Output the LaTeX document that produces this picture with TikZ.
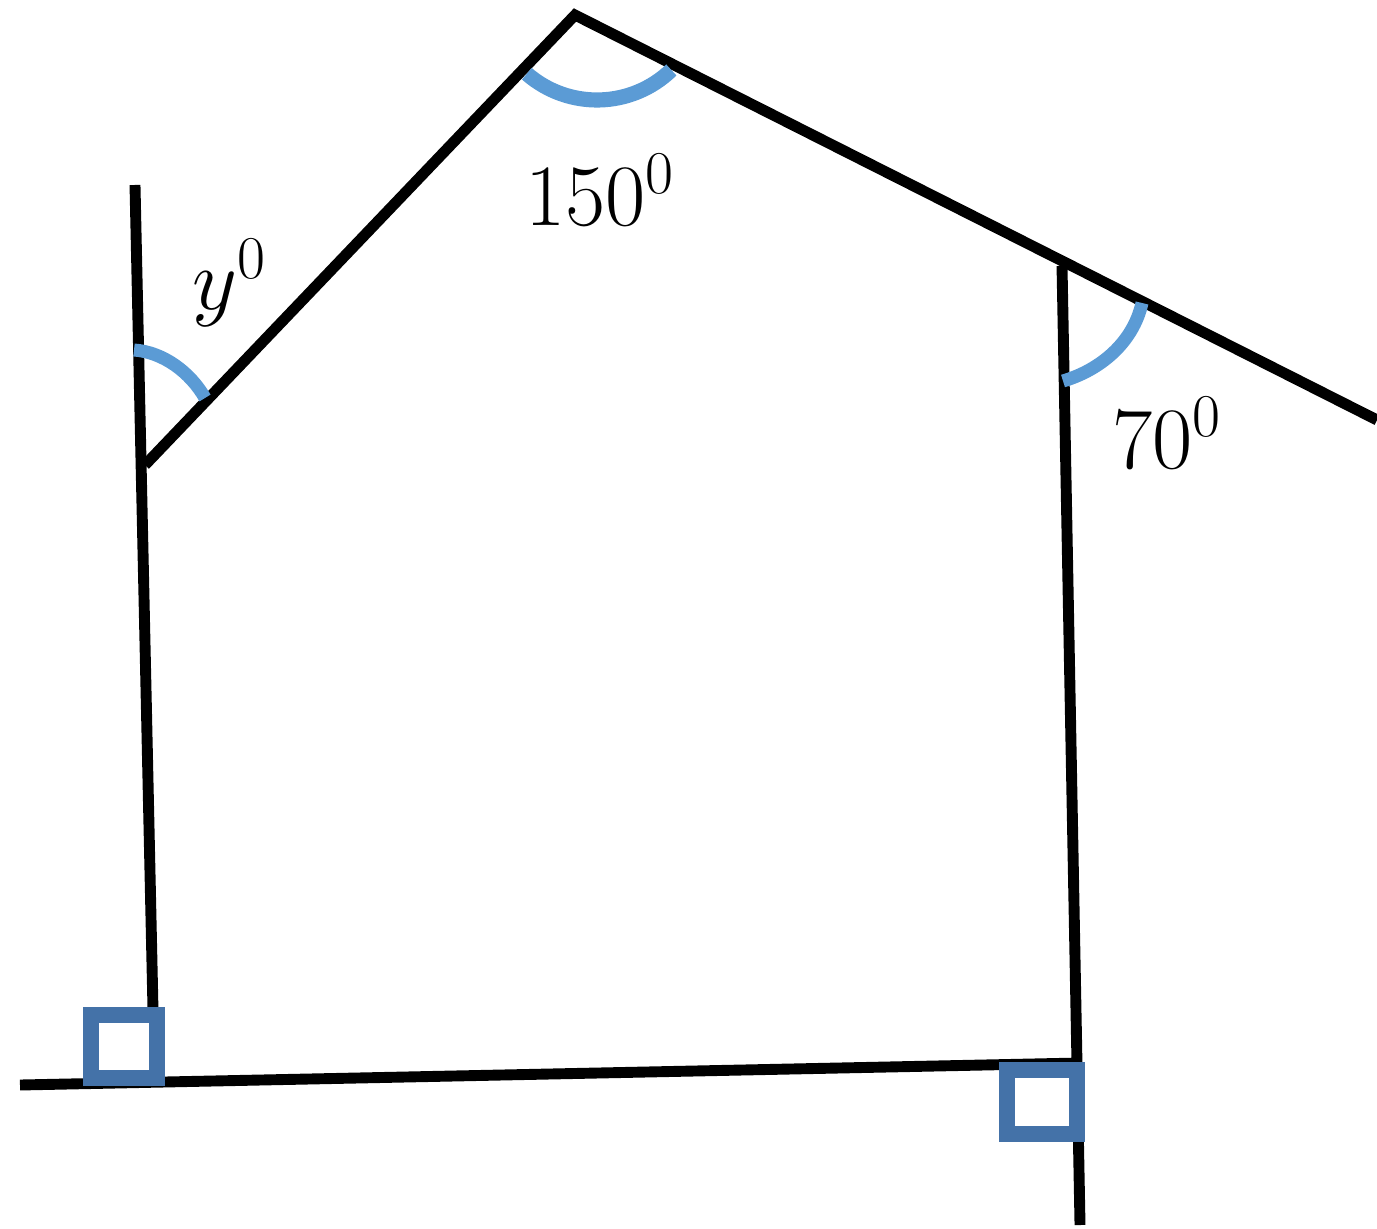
\documentclass[tikz,border=0pt]{standalone}
\definecolor{anglblue}{RGB}{91,155,213}
\definecolor{sqblue}{RGB}{68,114,168}
\begin{document}
\begin{tikzpicture}[x=0.01cm, y=-0.01cm, line width=3.1pt,
  anglemark/.style={draw=anglblue, line width=3.7pt},
  rightsq/.style={draw=sqblue, line width=4.5pt, fill=white},
  every node/.style={font=\fontsize{26}{30}\selectfont}]
  \useasboundingbox (0,0) rectangle (1377,1228);
  \coordinate (Ltop) at (135,185);
  \coordinate (Lbot) at (153,1010);
  \coordinate (L) at (145,465);
  \coordinate (A) at (575,15);
  \coordinate (R) at (1377,420);
  \coordinate (Rtop) at (1062,266);
  \coordinate (Rbot) at (1080,1225);
  \coordinate (Bl) at (20,1085);
  \coordinate (Br) at (1080,1063);
  \draw (Ltop) -- (Lbot);
  \draw[miter limit=10] (L) -- (A) -- (R);
  \draw (Rtop) -- (Rbot);
  \draw (Bl) -- (Br);
  \draw[anglemark, line width=4.3pt] (597,-7) ++(46:107) arc[start angle=46, end angle=131, radius=107];
  \draw[anglemark] (134,350) .. controls (163,352) and (190,372) .. (205,398);
  \draw[anglemark] (1142,303) .. controls (1133,343) and (1100,370) .. (1063,381);
  \draw[rightsq] (91,1015) rectangle (157,1078);
  \draw[rightsq] (1007,1070) rectangle (1077,1134);
  \node (lbl150) at (600,190) {$150^0$};
  \node (lbly) at (230,283) {$y^0$};
  \node (lbl70) at (1167,433) {$70^0$};
\end{tikzpicture}
\end{document}
